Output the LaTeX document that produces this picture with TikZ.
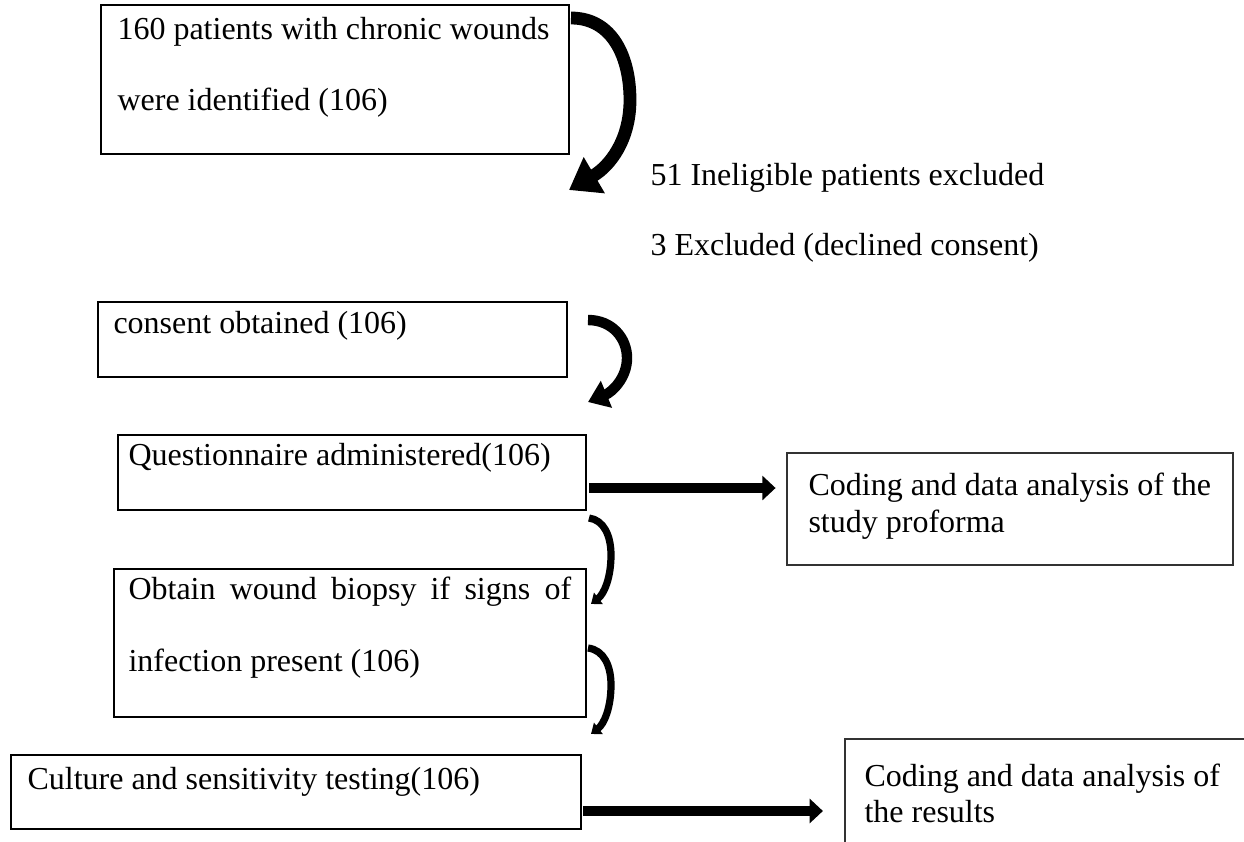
\documentclass[tikz,border=0pt]{standalone}
\usepackage{fontspec}
\setmainfont{Liberation Serif}
\usetikzlibrary{arrows.meta,fit}
\begin{document}
\begin{tikzpicture}[x=0.375pt,y=-0.375pt,
  box/.style={draw=black,line width=0.95pt,inner sep=0pt,fit={#1}},
  thinbox/.style={draw=black!80,line width=0.55pt,inner sep=0pt,fit={#1}},
  txt/.style={anchor=base west,inner sep=0pt,font=\fontsize{12}{14}\selectfont},
  bigcurve/.style={line width=4.8pt,line cap=butt,-{Triangle[length=11pt,width=15pt]}},
  midcurve/.style={line width=3.9pt,line cap=butt,-{Triangle[length=7.5pt,width=10.5pt]}},
  smallcurve/.style={line width=2.7pt,line cap=butt,-{Triangle[length=3.5pt,width=5.2pt]}},
  straight/.style={line width=4.1pt,-{Triangle[length=5pt,width=9pt]}}]
\useasboundingbox (0,0) rectangle (1244,841);
\clip (0,0) rectangle (1244,841);

% boxes
\node[box={(101,5) (569,154)}] (b1) {};
\node[box={(98,302) (567,377)}] (b2) {};
\node[box={(118,435) (586,510)}] (b3) {};
\node[box={(114,569) (586,717)}] (b4) {};
\node[thinbox={(787,453) (1233,565)}] (b5) {};
\node[box={(11,755) (581,829)}] (b6) {};
\node[thinbox={(845,739) (1260,860)}] (b7) {};

% texts
\node[txt] (t1a) at (117,39) {160 patients with chronic wounds};
\node[txt] (t1b) at (117,110) {were identified (106)};
\node[txt] (ex1) at (650,185) {51 Ineligible patients excluded};
\node[txt] (ex2) at (650,255) {3 Excluded (declined consent)};
\node[txt] (t2) at (113,333) {consent obtained (106)};
\node[txt] (t3) at (128,465) {Questionnaire administered(106)};
\node[txt] (t4a) at (128,599) {\makebox[166pt][s]{Obtain wound biopsy if signs of}};
\node[txt] (t4b) at (128,671) {infection present (106)};
\node[txt] (t5a) at (808,495) {Coding and data analysis of the};
\node[txt] (t5b) at (808,532) {study proforma};
\node[txt] (t6) at (27,789) {Culture and sensitivity testing(106)};
\node[txt] (t7a) at (864,786) {Coding and data analysis of};
\node[txt] (t7b) at (864,822) {the results};

% connector end points
\coordinate (c1s) at (571,18);
\coordinate (c1m) at (630,100);
\coordinate (c1e) at (569,190);
\coordinate (c2s) at (588,320);
\coordinate (c2m) at (627,358);
\coordinate (c2e) at (588,402);
\coordinate (c3s) at (589,518);
\coordinate (c3m) at (611,555);
\coordinate (c3e) at (591,604);
\coordinate (c4s) at (588,648);
\coordinate (c4m) at (611,685);
\coordinate (c4e) at (591,734);
\coordinate (a5s) at (589,488);
\coordinate (a6s) at (583,811);

% curved arrows
\draw[bigcurve] (c1s) .. controls (613,18) and (630,58) .. (c1m)
  .. controls (630,140) and (610,166) .. (c1e);
\draw[midcurve] (c2s) .. controls (612,320) and (627,338) .. (c2m)
  .. controls (627,378) and (612,392) .. (c2e);
\draw[smallcurve] (c3s) .. controls (604,520) and (611,536) .. (c3m)
  .. controls (611,578) and (604,594) .. (c3e);
\draw[smallcurve] (c4s) .. controls (604,650) and (611,666) .. (c4m)
  .. controls (611,708) and (604,724) .. (c4e);

% straight arrows
\draw[straight,shorten >=4] (a5s) -- (b5.west |- a5s);
\draw[straight,shorten >=8] (a6s) -- (b7.west |- a6s);
\end{tikzpicture}
\end{document}
